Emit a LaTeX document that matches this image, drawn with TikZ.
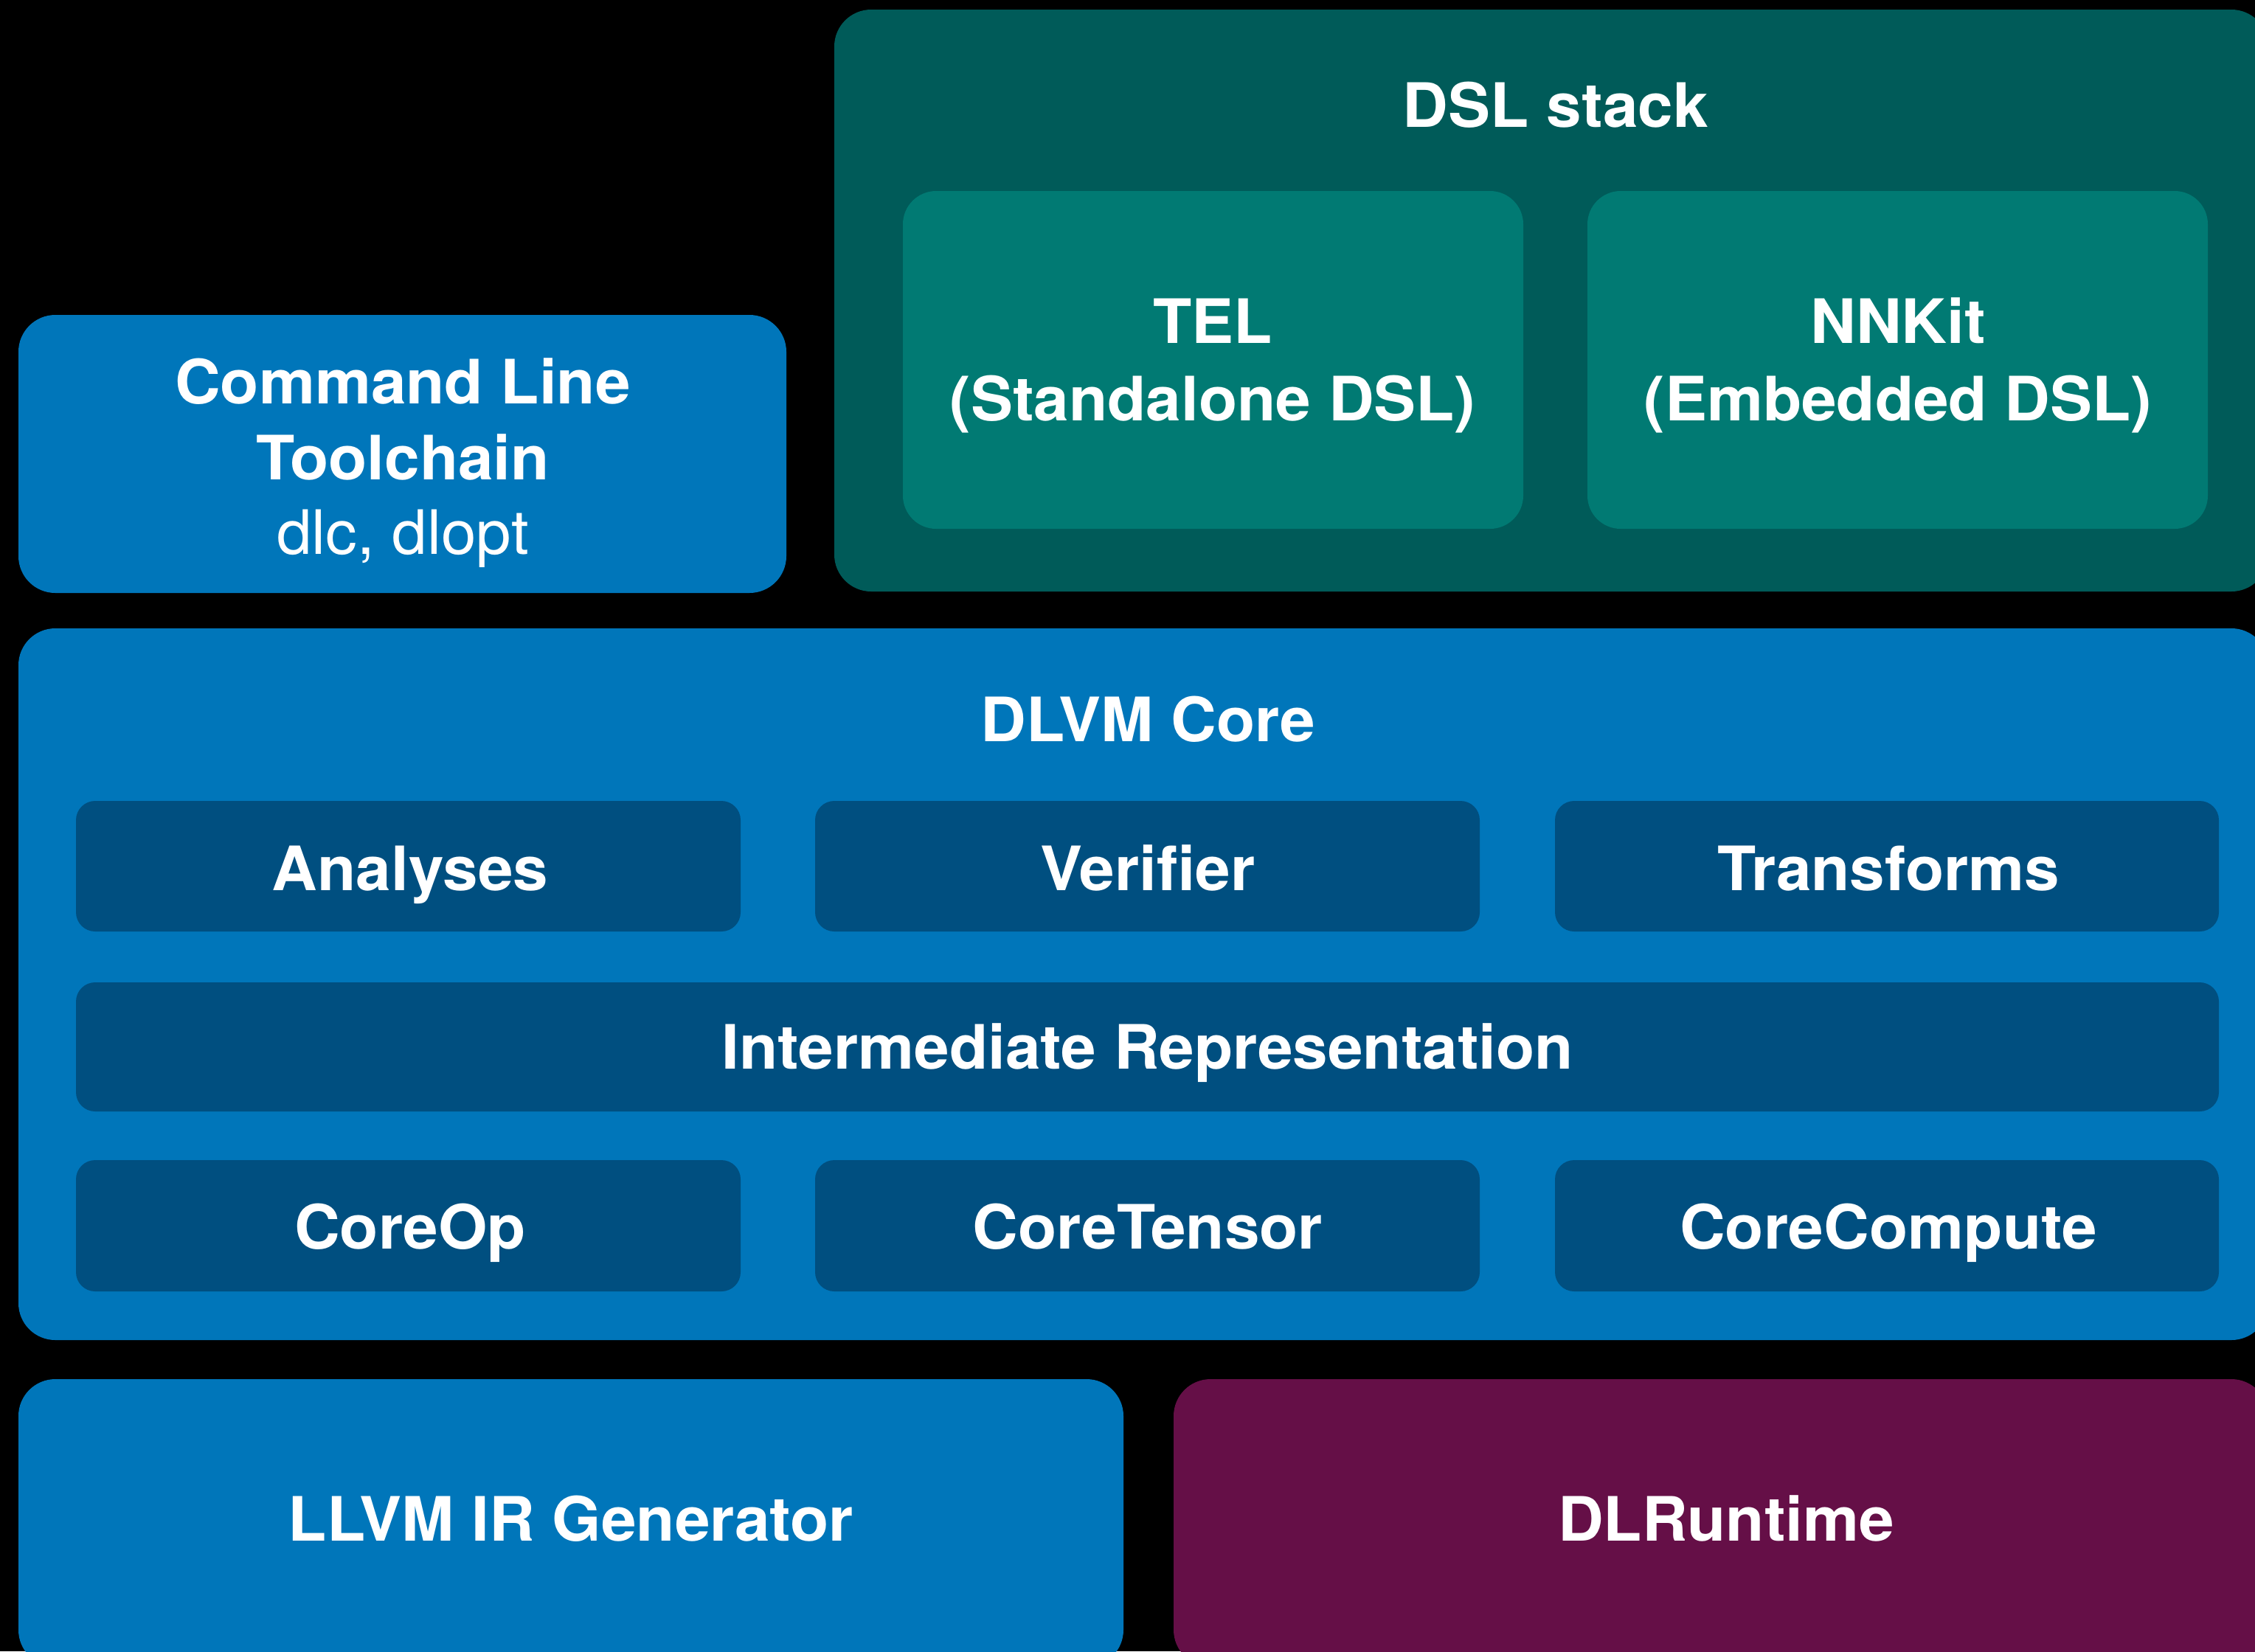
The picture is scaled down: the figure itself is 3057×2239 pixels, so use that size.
\documentclass[tikz,border=0pt]{standalone}
\usepackage{fontspec}
\setmainfont{TeX Gyre Heros}[FakeStretch=1.03]
\definecolor{kblue}{HTML}{0076BA}
\definecolor{kdark}{HTML}{004F80}
\definecolor{kteal}{HTML}{005B59}
\definecolor{kteallight}{HTML}{017A73}
\definecolor{kpurple}{HTML}{650F47}
\tikzset{
  box/.style={rectangle, rounded corners=50pt, inner sep=0pt},
  bigbox/.style={box, fill=kblue},
  rowbox/.style={box, fill=kdark, rounded corners=26pt},
  dslbox/.style={box, fill=kteallight, rounded corners=45pt},
  lbl/.style={inner sep=0pt, text=white, text height=60pt, text depth=0pt,
    font=\bfseries\fontsize{83}{104}\selectfont},
  lblreg/.style={lbl, font=\mdseries\fontsize{83}{104}\selectfont},
}
\begin{document}
\begin{tikzpicture}[x=1pt,y=-1pt]
\useasboundingbox (0,0) rectangle (3057,2239);
\fill[black] (0,0) rectangle (3057,2239);
\clip (0,0) rectangle (3057,2239);
% Command line toolchain
\node[bigbox, minimum width=1041pt, minimum height=377pt] (cmd) at (545.5,615.5) {};
\node[lbl] (cmd1) at (546,517) {Command Line};
\node[lbl] (cmd2) at (546,620) {Toolchain};
\node[lblreg] (cmd3) at (546,721) {dlc, dlopt};
% DSL stack
\node[box, fill=kteal, minimum width=1944pt, minimum height=789pt] (dsl) at (2103,407.5) {};
\node[lbl] (dsltitle) at (2109,142) {DSL stack};
\node[dslbox, minimum width=841pt, minimum height=458pt] (tel) at (1644.5,488) {};
\node[lbl] (tel1) at (1644,435) {TEL};
\node[lbl] (tel2) at (1644,540) {(Standalone DSL)};
\node[dslbox, minimum width=841pt, minimum height=458pt] (nnkit) at (2572.5,488) {};
\node[lbl] (nn1) at (2573,435) {NNKit};
\node[lbl] (nn2) at (2573,540) {(Embedded DSL)};
% DLVM core
\node[bigbox, minimum width=3050pt, minimum height=965pt] (core) at (1550,1334.5) {};
\node[lbl] (coretitle) at (1556,975) {DLVM Core};
\node[rowbox, minimum width=901pt, minimum height=177pt] (analyses) at (553.5,1174.5) {};
\node[rowbox, minimum width=901pt, minimum height=177pt] (verifier) at (1555.5,1174.5) {};
\node[rowbox, minimum width=900pt, minimum height=177pt] (transforms) at (2558,1174.5) {};
\node[lbl] (analysest) at (556,1177) {Analyses};
\node[lbl] (verifiert) at (1556,1177) {Verifier};
\node[lbl] (transformst) at (2560,1177) {Transforms};
\node[rowbox, minimum width=2905pt, minimum height=175pt] (ir) at (1555.5,1419.5) {};
\node[lbl] (irt) at (1556,1419) {Intermediate Representation};
\node[rowbox, minimum width=901pt, minimum height=178pt] (coreop) at (553.5,1662) {};
\node[rowbox, minimum width=901pt, minimum height=178pt] (coretensor) at (1555.5,1662) {};
\node[rowbox, minimum width=900pt, minimum height=178pt] (corecompute) at (2558,1662) {};
\node[lbl] (coreopt) at (556,1663) {CoreOp};
\node[lbl] (coretensort) at (1556,1663) {CoreTensor};
\node[lbl] (corecomputet) at (2560,1663) {CoreCompute};
% bottom
\node[bigbox, minimum width=1498pt, minimum height=390pt] (llvm) at (774,2065) {};
\node[lbl] (llvmtext) at (774,2059) {LLVM IR Generator};
\node[box, fill=kpurple, minimum width=1484pt, minimum height=390pt] (dlr) at (2333,2065) {};
\node[lbl] (dlrtext) at (2340,2059) {DLRuntime};
\end{tikzpicture}
\end{document}
